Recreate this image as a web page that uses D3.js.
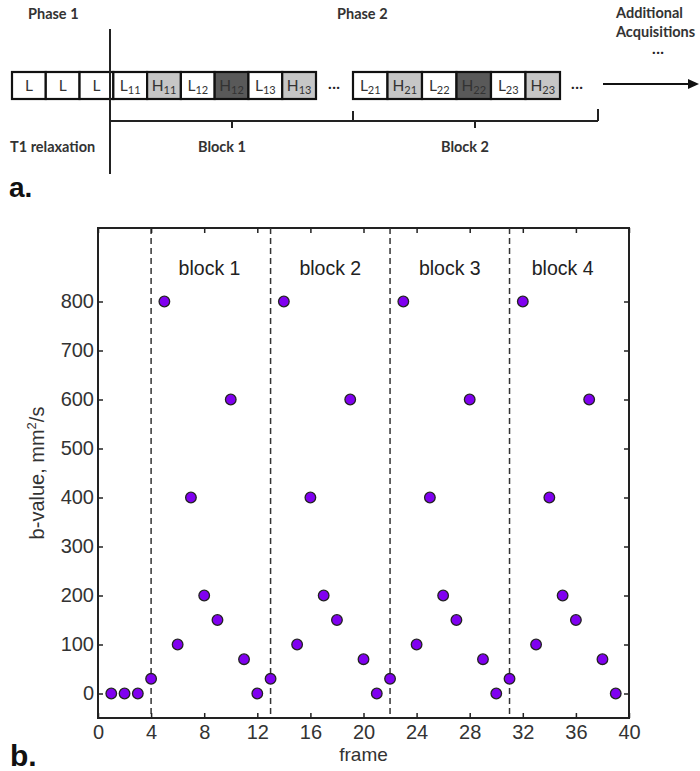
<!DOCTYPE html>
<html>
<head>
<script src="https://d3js.org/d3.v7.min.js"></script>
<style>
  body { margin: 0; background: #fff; }
  text { font-family: "Liberation Sans", Arial, sans-serif; }
  .diag text { font-family: Lato, "Open Sans", sans-serif; }
</style>
</head>
<body>
<script>
// ----- data -----
var frames  = [1,2,3,4,5,6,7,8,9,10,11,12,13,14,15,16,17,18,19,20,21,22,23,24,25,26,27,28,29,30,31,32,33,34,35,36,37,38,39];
var bvalues = [0,0,0,30,800,100,400,200,150,600,70,0,30,800,100,400,200,150,600,70,0,30,800,100,400,200,150,600,70,0,30,800,100,400,200,150,600,70,0];
var blockStarts = [4,13,22,31];
var blockNames  = ["block 1","block 2","block 3","block 4"];
var blockLabelAt = [8.4,17.5,26.5,35];
var xTicks = [0,4,8,12,16,20,24,28,32,36,40];
var yTicks = [0,100,200,300,400,500,600,700,800];

// diagram cells: [main, subscript, shade]  shade 0 white, 1 light, 2 dark
var row1 = [["L","",0],["L","",0],["L","",0],["L","11",0],["H","11",1],["L","12",0],["H","12",2],["L","13",0],["H","13",1]];
var row2 = [["L","21",0],["H","21",1],["L","22",0],["H","22",2],["L","23",0],["H","23",1]];
var shades = ["#ffffff","#c6c6c6","#595959"];

var w = 700, h = 771;
var svg = d3.select("body").append("svg").attr("width", w).attr("height", h);

// ----- panel a: acquisition diagram -----
var g = svg.append("g").attr("class","diag");

function drawRow(cells, x0, x1){
    var xb = d3.scaleBand().domain(d3.range(cells.length)).range([x0, x1]);
    var c = g.selectAll(null).data(cells).enter().append("g");
    c.append("rect")
        .attr("x", function(d,i){ return xb(i) })
        .attr("y", 72)
        .attr("width", xb.bandwidth())
        .attr("height", 27)
        .attr("fill", function(d){ return shades[d[2]] })
        .attr("stroke", "#111")
        .attr("stroke-width", 2.2);
    var t = c.append("text")
        .attr("x", function(d,i){ return xb(i) + xb.bandwidth()/2 })
        .attr("y", 91)
        .attr("text-anchor", "middle")
        .attr("font-size", 15.5)
        .attr("fill", "#333");
    t.append("tspan").text(function(d){ return d[0] });
    t.append("tspan").attr("font-size", 11).attr("dy", 3).text(function(d){ return d[1] });
}
drawRow(row1, 12, 316);
drawRow(row2, 353, 560);

var dg = "#222";
// phase divider
g.append("line").attr("x1",110).attr("x2",110).attr("y1",29).attr("y2",174).attr("stroke",dg).attr("stroke-width",2);
// brackets
g.append("path")
    .attr("d","M110,121H598M353,121V111M598,121V109M232,121V128M475,121V128")
    .attr("fill","none").attr("stroke",dg).attr("stroke-width",2);
// arrow
g.append("line").attr("x1",603).attr("x2",690).attr("y1",84).attr("y2",84).attr("stroke","#111").attr("stroke-width",2);
g.append("path").attr("d","M699,84L688,79L688,89Z").attr("fill","#111");

var labs = [
    {t:"Phase 1", x:28, y:19, a:"start"},
    {t:"Phase 2", x:337, y:19, a:"start"},
    {t:"Additional", x:616, y:18, a:"start"},
    {t:"Acquisitions", x:616, y:37, a:"start"},
    {t:"T1 relaxation", x:10, y:152, a:"start"},
    {t:"Block 1", x:222, y:152, a:"middle"},
    {t:"Block 2", x:465, y:152, a:"middle"}
];
g.selectAll(null).data(labs).enter().append("text")
    .attr("x", function(d){ return d.x }).attr("y", function(d){ return d.y })
    .attr("text-anchor", function(d){ return d.a })
    .attr("font-size", 14.5).attr("font-weight", "bold").attr("fill", "#333")
    .text(function(d){ return d.t });
// ellipses
[[334,92],[577,92],[658,57]].forEach(function(p){
    g.append("text").attr("x",p[0]).attr("y",p[1]).attr("text-anchor","middle")
        .attr("font-size",16).attr("fill","#222").text("\u00b7\u00b7\u00b7");
});

svg.append("text").attr("x",9).attr("y",197).attr("font-size",28).attr("font-weight","bold")
    .attr("fill","#111").text("a.");

// ----- panel b: b-values per frame -----
var x = d3.scaleLinear().domain([0,40]).range([98,629]);
var y = d3.scaleLinear().domain([-50,950]).range([718,228]);

var p = svg.append("g");

p.append("rect").attr("x",x(0)).attr("y",y(950)).attr("width",x(40)-x(0)).attr("height",y(-50)-y(950))
    .attr("fill","none").attr("stroke","#222").attr("stroke-width",2);

// block separators
p.selectAll(null).data(blockStarts).enter().append("line")
    .attr("x1", function(d){ return x(d) }).attr("x2", function(d){ return x(d) })
    .attr("y1", y(950)).attr("y2", y(-50))
    .attr("stroke","#333").attr("stroke-width",1.5).attr("stroke-dasharray","6,4");

p.selectAll(null).data(blockNames).enter().append("text")
    .attr("x", function(d,i){ return x(blockLabelAt[i]) })
    .attr("y", 275)
    .attr("text-anchor","middle").attr("font-size",19.5).attr("fill","#222")
    .text(function(d){ return d });

function styleAxis(sel, showText){
    sel.select(".domain").remove();
    sel.selectAll(".tick line").attr("stroke","#222").attr("stroke-width",1.5);
    sel.selectAll(".tick text").attr("font-size",20).attr("fill","#333")
        .attr("font-family","'Liberation Sans', Arial, sans-serif");
    if (!showText) sel.selectAll(".tick text").remove();
}

p.append("g").attr("transform","translate(0,"+y(-50)+")")
    .call(d3.axisBottom(x).tickValues(xTicks).tickSize(-5).tickPadding(7))
    .call(styleAxis, true);
p.append("g").attr("transform","translate(0,"+y(950)+")")
    .call(d3.axisTop(x).tickValues(xTicks).tickSize(-5))
    .call(styleAxis, false);
p.append("g").attr("transform","translate("+x(0)+",0)")
    .call(d3.axisLeft(y).tickValues(yTicks).tickSize(-5).tickPadding(4))
    .call(styleAxis, true);
p.append("g").attr("transform","translate("+x(40)+",0)")
    .call(d3.axisRight(y).tickValues(yTicks).tickSize(-5))
    .call(styleAxis, false);

// points
p.selectAll(null).data(frames).enter().append("circle")
    .attr("cx", function(d){ return x(d) })
    .attr("cy", function(d,i){ return y(bvalues[i]) })
    .attr("r", 5.3)
    .attr("fill","#8000f0").attr("stroke","#222").attr("stroke-width",1.3);

// axis titles
p.append("text").attr("x",(x(0)+x(40))/2).attr("y",761).attr("text-anchor","middle")
    .attr("font-size",19).attr("fill","#333").text("frame");
var yl = p.append("text").attr("transform","translate(44,"+((y(-50)+y(950))/2)+") rotate(-90)")
    .attr("text-anchor","middle").attr("font-size",20).attr("fill","#333");
yl.append("tspan").text("b-value, mm");
yl.append("tspan").attr("font-size",13).attr("dy",-8).text("2");
yl.append("tspan").attr("dy",8).text("/s");

svg.append("text").attr("x",10).attr("y",766).attr("font-size",30).attr("font-weight","bold")
    .attr("fill","#111").text("b.");
</script>
</body>
</html>
